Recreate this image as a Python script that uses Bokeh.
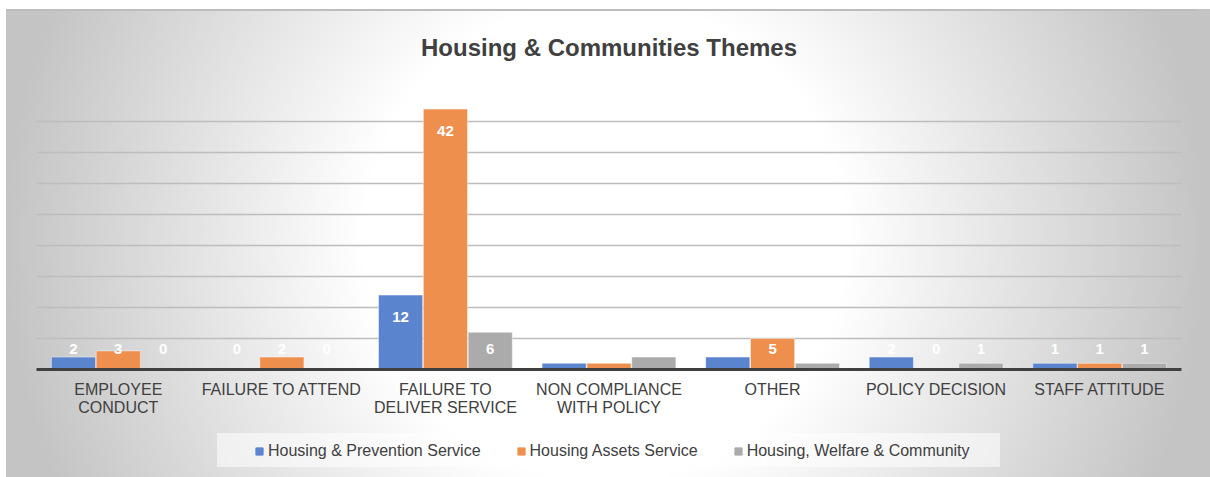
from bokeh.plotting import figure
from bokeh.layouts import column
from bokeh.models import (ColumnDataSource, FactorRange, Range1d, Legend, LegendItem,
                          SingleIntervalTicker)
from bokeh.transform import dodge
from bokeh.core.properties import value
from bokeh.embed import file_html
from bokeh.resources import INLINE

# ---------------- data ----------------
categories = ["EMPLOYEE\nCONDUCT", "FAILURE TO ATTEND", "FAILURE TO\nDELIVER SERVICE",
              "NON COMPLIANCE\nWITH POLICY", "OTHER", "POLICY DECISION", "STAFF ATTITUDE"]
series_names = ["Housing & Prevention Service", "Housing Assets Service",
                "Housing, Welfare & Community"]
prevention = [2, 0, 12, 1, 2, 2, 1]
assets = [3, 2, 42, 1, 5, 0, 1]
welfare = [0, 0, 6, 2, 1, 1, 1]
title_text = "Housing & Communities Themes"
y_max = 45
y_step = 5

# ---------------- style ----------------
colors = ["#5B84CE", "#EF8F4E", "#ABABAB"]
FONT = "Liberation Sans"
TXT = "#404040"
W = 1210
H_MAIN, H_LEG = 420, 57
ML, MR, MT, MB = 36, 29, 90, 51
bar_w = 0.27
offsets = [-0.274, 0.0, 0.274]

p = figure(width=W, height=H_MAIN, x_range=FactorRange(factors=categories),
           y_range=Range1d(0, y_max), output_backend="svg", toolbar_location=None,
           min_border_left=ML, min_border_right=MR, min_border_top=MT,
           min_border_bottom=MB)
p.background_fill_color = None
p.border_fill_color = None
p.outline_line_color = None

# legend strip (separate figure so the legend is never clipped)
pl = figure(width=W, height=H_LEG, x_range=p.x_range, y_range=Range1d(0, 1),
            output_backend="svg", toolbar_location=None, title=None,
            min_border_left=0, min_border_right=0, min_border_top=0, min_border_bottom=0)
pl.background_fill_color = None
pl.border_fill_color = None
pl.outline_line_color = None
pl.xaxis.visible = False
pl.yaxis.visible = False
pl.xgrid.grid_line_color = None
pl.ygrid.grid_line_color = None

frame_h = H_MAIN - MT - MB
px_per_unit = frame_h / y_max

series = [prevention, assets, welfare]
legend_renderers = []
for vals, col, off in zip(series, colors, offsets):
    ly = [max(v - 22 / px_per_unit, 20.3 / px_per_unit) for v in vals]
    src = ColumnDataSource(dict(cat=categories, v=vals, ly=ly, txt=[str(v) for v in vals]))
    p.vbar(x=dodge("cat", off, range=p.x_range), top="v", bottom=0, width=bar_w, source=src,
           fill_color=col, line_color="white", line_alpha=0.45, line_width=1)
    p.text(x=dodge("cat", off, range=p.x_range), y="ly", text="txt", source=src,
           text_align="center", text_baseline="middle", text_color="white",
           text_font=value(FONT), text_font_style="bold", text_font_size="15px")
    # legend-only marker renderer (hidden)
    r = pl.scatter(x=dodge("cat", off, range=p.x_range), y="v", source=src, marker="square",
                   fill_color=col, line_color=col)
    r.visible = False
    legend_renderers.append(r)

# grid / axes
p.xgrid.grid_line_color = None
p.ygrid.ticker = SingleIntervalTicker(interval=y_step, num_minor_ticks=0)
p.ygrid.grid_line_color = "#bdbdbd"
p.ygrid.grid_line_width = 1.5
p.yaxis.visible = False

ax = p.xaxis[0]
ax.axis_line_color = "#404040"
ax.axis_line_width = 3
ax.major_tick_line_color = None
ax.minor_tick_line_color = None
ax.major_tick_out = 0
ax.major_label_standoff = 11
ax.major_label_text_font = FONT
ax.major_label_text_font_size = "16px"
ax.major_label_text_color = TXT
ax.major_label_text_line_height = 1.1

# title
p.title.text = title_text
p.title.align = "center"
p.title.text_font = FONT
p.title.text_font_size = "24px"
p.title.text_font_style = "bold"
p.title.text_color = TXT
p.title.standoff = 60

legend = Legend(items=[LegendItem(label=n, renderers=[r]) for n, r in zip(series_names, legend_renderers)],
                orientation="horizontal", location=(214, 17),
                glyph_width=18, glyph_height=18, label_standoff=0, label_height=18,
                spacing=31, padding=8, margin=0,
                background_fill_alpha=0, border_line_color=None,
                inactive_fill_alpha=0,
                label_text_font=FONT, label_text_font_size="16px", label_text_color=TXT)
pl.add_layout(legend)

layout = column(p, pl, spacing=0)
layout.styles = {
    "background": (
        "linear-gradient(#bdbdbd,#bdbdbd) 6px 9px/1191px 2px no-repeat, "
        "linear-gradient(rgba(255,255,255,0.55),rgba(255,255,255,0.55)) 217px 433px/783px 34px no-repeat, "
        "radial-gradient(ellipse 600px 600px at 599px 231px, #ffffff 0%, #ffffff 40%, #c4c4c4 100%) "
        "6px 9px/1204px 468px no-repeat, #ffffff"
    )
}

open("out.html", "w").write(file_html(layout, INLINE))
